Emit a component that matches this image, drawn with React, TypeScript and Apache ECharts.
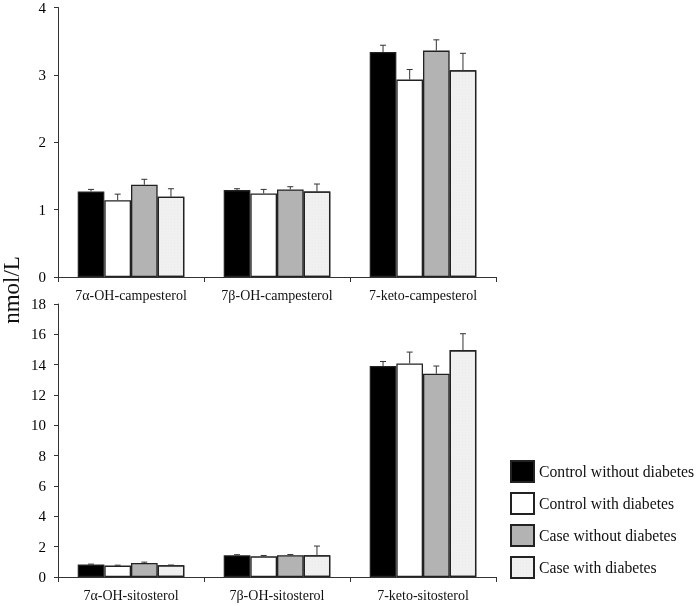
import React, { useEffect, useRef } from "react";
import * as echarts from "echarts";

const groupNames = ["Control without diabetes", "Control with diabetes", "Case without diabetes", "Case with diabetes"];
const topCategories = ["7α-OH-campesterol", "7β-OH-campesterol", "7-keto-campesterol"];
const bottomCategories = ["7α-OH-sitosterol", "7β-OH-sitosterol", "7-keto-sitosterol"];

const topMeans = [
  [1.27, 1.29, 3.34],
  [1.14, 1.24, 2.93],
  [1.37, 1.30, 3.36],
  [1.19, 1.27, 3.07],
];
const topErrors = [
  [0.03, 0.02, 0.10],
  [0.09, 0.06, 0.15],
  [0.08, 0.04, 0.16],
  [0.12, 0.11, 0.25],
];
const bottomMeans = [
  [0.83, 1.43, 13.91],
  [0.75, 1.36, 14.08],
  [0.92, 1.43, 13.40],
  [0.77, 1.43, 14.96],
];
const bottomErrors = [
  [0.02, 0.04, 0.30],
  [0.03, 0.06, 0.75],
  [0.06, 0.05, 0.51],
  [0.02, 0.61, 1.08],
];
const topTicks = { max: 4, interval: 1 };
const bottomTicks = { max: 18, interval: 2 };

const FONT = "'Liberation Serif', 'Times New Roman', serif";
const CAT_GAP = 0.27;

const fills = ["#000000", "#ffffff", "#b3b3b3", "#f0f0f0"];

function barStyle(i: number) {
  const s: any = { color: fills[i], borderColor: "#222", borderWidth: 1.3 };
  if (i === 3) {
    s.decal = {
      symbol: "rect",
      symbolSize: 0.5,
      color: "rgba(0,0,0,0.08)",
      dashArrayX: [1, 2],
      dashArrayY: [1, 2],
    };
  }
  return s;
}

function errorSeries(means: number[][], errs: number[][], axisIndex: number) {
  const data: number[][] = [];
  means.forEach((row, s) => row.forEach((v, c) => data.push([c, s, v, errs[s][c]])));
  return {
    type: "custom",
    xAxisIndex: axisIndex,
    yAxisIndex: axisIndex,
    encode: { x: 0, y: 2 },
    silent: true,
    z: 5,
    renderItem: (params: any, api: any) => {
      const c = api.value(0);
      const s = api.value(1);
      const v = api.value(2);
      const e = api.value(3);
      const band = api.size([1, 0])[0];
      const bw = (band * (1 - CAT_GAP)) / 4;
      const base = api.coord([c, v]);
      const top = api.coord([c, v + e]);
      const x = base[0] + (s - 1.5) * bw;
      const style = { stroke: "#333", lineWidth: 1 };
      return {
        type: "group",
        children: [
          { type: "line", shape: { x1: x, y1: base[1], x2: x, y2: top[1] }, style },
          { type: "line", shape: { x1: x - 3, y1: top[1], x2: x + 3, y2: top[1] }, style },
        ],
      };
    },
    data,
  };
}

export default function App() {
  const ref = useRef<HTMLDivElement>(null);
  useEffect(() => {
    if (!ref.current) return;
    const chart = echarts.init(ref.current, null, { renderer: "svg" });
    const axisLine = { show: true, lineStyle: { color: "#333", width: 1 } };
    const xAxis = (cats: string[], gi: number) => ({
      type: "category",
      gridIndex: gi,
      data: cats,
      axisLine,
      axisTick: { show: true, length: 5, lineStyle: { color: "#333" } },
      axisLabel: { fontFamily: FONT, fontSize: 14, color: "#111", margin: 11 },
    });
    const yAxis = (t: { max: number; interval: number }, gi: number) => ({
      type: "value",
      gridIndex: gi,
      min: 0,
      max: t.max,
      interval: t.interval,
      splitLine: { show: false },
      axisLine,
      axisTick: { show: true, length: 4, lineStyle: { color: "#333" } },
      axisLabel: { fontFamily: FONT, fontSize: 15, color: "#000", margin: 12 },
    });
    const bars: any[] = [];
    groupNames.forEach((name, i) => {
      bars.push({
        type: "bar",
        name,
        xAxisIndex: 0,
        yAxisIndex: 0,
        data: topMeans[i],
        barGap: "0%",
        barCategoryGap: CAT_GAP * 100 + "%",
        itemStyle: barStyle(i),
      });
    });
    groupNames.forEach((name, i) => {
      bars.push({
        type: "bar",
        name,
        xAxisIndex: 1,
        yAxisIndex: 1,
        data: bottomMeans[i],
        barGap: "0%",
        barCategoryGap: CAT_GAP * 100 + "%",
        itemStyle: barStyle(i),
      });
    });
    chart.setOption({
      animation: false,
      aria: { enabled: false, decal: { show: false } },
      grid: [
        { left: 58, top: 5, width: 438, height: 272 },
        { left: 58, top: 304, width: 438, height: 273 },
      ],
      xAxis: [xAxis(topCategories, 0), xAxis(bottomCategories, 1)],
      yAxis: [yAxis(topTicks, 0), yAxis(bottomTicks, 1)],
      legend: {
        data: groupNames,
        orient: "vertical",
        left: 505,
        top: 455,
        icon: "rect",
        itemWidth: 23,
        itemHeight: 21,
        itemGap: 9,
        selectedMode: false,
        textStyle: { fontFamily: FONT, fontSize: 15.7, color: "#111" },
      },
      graphic: [
        {
          type: "text",
          x: 11,
          y: 290,
          rotation: Math.PI / 2,
          style: {
            text: "nmol/L",
            font: "23px " + FONT,
            fill: "#111",
            textAlign: "center",
            textVerticalAlign: "middle",
          },
        },
      ],
      series: [...bars, errorSeries(topMeans, topErrors, 0), errorSeries(bottomMeans, bottomErrors, 1)],
    });
    return () => chart.dispose();
  }, []);
  return <div ref={ref} style={{ position: "fixed", left: 0, top: 0, width: 697, height: 606 }} />;
}
